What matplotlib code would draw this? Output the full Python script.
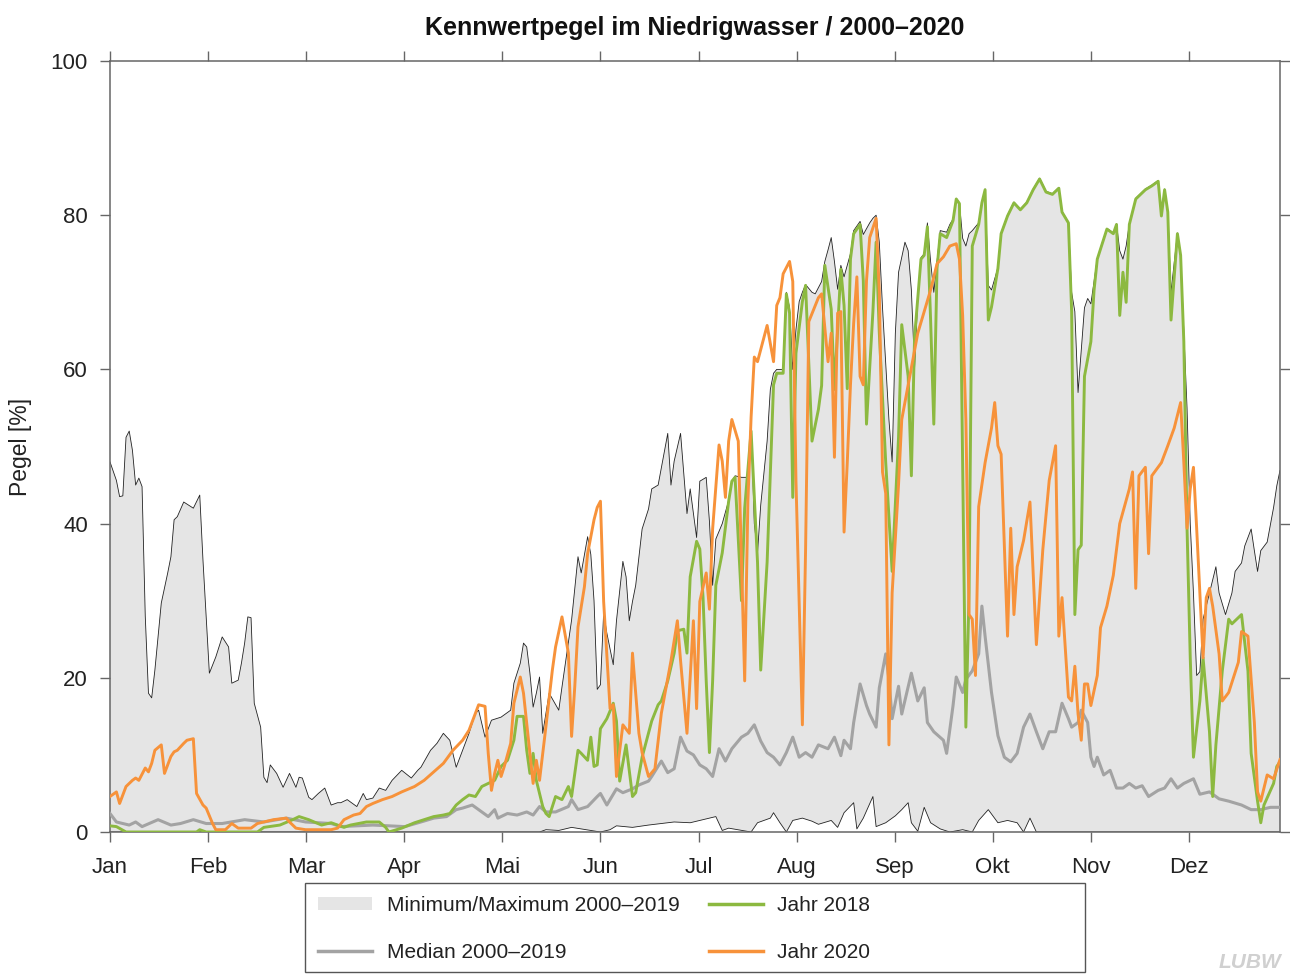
import matplotlib
matplotlib.use("Agg")
import matplotlib.pyplot as plt
import numpy as np
from matplotlib.patches import Patch, Rectangle
from matplotlib.lines import Line2D

plt.rcParams["font.family"] = ["Liberation Sans", "DejaVu Sans"]

months = ["Jan", "Feb", "Mar", "Apr", "Mai", "Jun", "Jul", "Aug", "Sep", "Okt", "Nov", "Dez"]
month_start = np.arange(12) * 30.6

# (day of year, Pegel %)
max_2000_2019 = [
    (0, 48.0), (2, 45.6), (3, 43.5), (4, 43.6), (5, 51.2), (6, 52.0), (7, 49.5), (8, 45.0), (9, 45.9),
    (10, 44.8), (11, 28.0), (12, 18.0), (13, 17.4), (14, 21.0), (16, 29.7), (18, 33.6), (19, 35.7),
    (20, 40.5), (21, 40.9), (23, 42.8), (26, 42.0), (28, 43.7), (29, 35.3), (31, 20.6), (33, 22.7),
    (35, 25.3), (37, 24.0), (38, 19.3), (40, 19.7), (41, 21.9), (42, 24.5), (43, 27.9), (44, 27.8),
    (45, 16.7), (47, 13.6), (48, 7.1), (49, 6.4), (50, 8.7), (52, 7.6), (54, 5.8), (55, 6.7), (56, 7.6),
    (58, 5.8), (59, 7.1), (60, 7.0), (62, 4.5), (63, 4.2), (65, 5.0), (67, 5.7), (69, 3.5), (71, 3.8),
    (72, 3.8), (74, 4.2), (77, 3.3), (79, 5.0), (80, 4.2), (82, 4.4), (84, 5.7), (86, 5.4), (88, 6.7),
    (91, 8.0), (94, 7.0), (96, 8.0), (97, 8.4), (100, 10.6), (102, 11.5), (104, 12.8), (106, 11.9),
    (108, 8.4), (110, 10.6), (112, 12.8), (114, 15.4), (115, 15.8), (117, 12.3), (119, 14.5), (122, 14.9),
    (125, 15.8), (126, 19.3), (128, 21.9), (129, 24.5), (130, 24.0), (131, 20.6), (132, 16.2), (133, 18.0),
    (134, 20.1), (135, 12.8), (137, 18.0), (140, 15.8), (141, 18.8), (144, 27.5), (146, 35.7), (147, 33.6),
    (149, 38.3), (150, 36.0), (151, 30.0), (152, 18.5), (153, 19.1), (154, 28.4), (155, 25.8), (157, 21.7),
    (158, 27.4), (160, 35.1), (161, 33.1), (162, 27.4), (163, 29.9), (164, 32.0), (166, 39.3), (168, 41.9),
    (169, 44.5), (171, 45.0), (174, 51.7), (175, 45.0), (176, 48.1), (178, 51.7), (180, 41.3), (181, 44.5),
    (183, 38.2), (184, 45.5), (186, 46.0), (187, 40.3), (188, 32.0), (189, 38.0), (191, 40.0), (193, 43.0),
    (194, 45.5), (195, 46.2), (197, 46.0), (199, 46.0), (200, 53.0), (201, 40.0), (202, 36.2), (203, 42.4),
    (205, 50.7), (206, 57.4), (207, 59.5), (208, 60.0), (210, 60.0), (211, 70.0), (212, 68.0), (213, 60.0),
    (214, 65.2), (215, 68.8), (216, 70.0), (217, 71.0), (219, 70.0), (220, 69.8), (222, 71.4), (223, 74.0),
    (224, 75.5), (225, 77.1), (226, 74.0), (227, 70.4), (228, 73.5), (229, 72.0), (231, 75.0), (232, 78.0),
    (234, 79.2), (235, 77.5), (237, 79.0), (238, 79.6), (239, 80.0), (240, 76.5), (241, 68.0), (243, 53.5),
    (244, 48.0), (245, 64.7), (246, 72.6), (248, 76.5), (249, 75.4), (250, 70.3), (251, 60.2), (252, 69.2),
    (253, 74.5), (254, 75.0), (255, 79.0), (256, 74.0), (257, 70.0), (258, 74.0), (259, 78.0), (261, 77.8),
    (262, 78.8), (263, 79.5), (264, 82.2), (265, 81.6), (266, 77.0), (267, 76.0), (268, 77.6), (269, 78.0),
    (270, 78.5), (271, 79.0), (272, 81.7), (273, 83.4), (274, 70.9), (275, 70.3), (277, 73.2), (278, 77.7),
    (280, 80.0), (282, 81.7), (284, 80.8), (286, 81.7), (288, 83.4), (290, 84.8), (292, 83.1), (294, 82.8),
    (296, 83.6), (297, 80.5), (299, 79.1), (300, 70.0), (301, 67.5), (302, 57.0), (304, 68.0), (305, 69.2),
    (306, 68.5), (308, 74.4), (311, 78.3), (313, 77.7), (314, 78.9), (315, 75.4), (316, 74.3), (317, 76.0),
    (318, 78.9), (320, 82.2), (323, 83.4), (325, 83.9), (327, 84.5), (328, 80.0), (329, 83.4), (330, 80.5),
    (331, 70.0), (333, 77.7), (334, 74.9), (335, 65.0), (336, 55.0), (337, 40.0), (338, 31.0), (339, 20.3),
    (340, 20.8), (341, 27.6), (343, 31.0), (345, 34.4), (346, 31.0), (348, 28.2), (350, 31.0), (351, 33.8),
    (353, 34.9), (354, 37.1), (356, 39.3), (357, 36.5), (358, 33.8), (359, 36.5), (361, 37.6), (363, 42.1),
    (364, 44.9), (365, 46.9),
]

min_2000_2019 = [
    (0, 0.0), (134, 0.0), (136, 0.3), (140, 0.2), (144, 0.6), (150, 0.2), (153, 0.0), (156, 0.3), (158, 0.8),
    (163, 0.6), (168, 0.9), (176, 1.3), (181, 1.2), (184, 1.5), (189, 2.0), (191, 0.2), (193, 0.5), (200, 0.0),
    (202, 1.2), (206, 1.8), (207, 2.5), (209, 1.2), (211, 0.0), (213, 1.5), (216, 1.8), (219, 1.4), (221, 1.0),
    (225, 1.5), (227, 0.6), (229, 2.5), (232, 3.8), (233, 0.4), (235, 1.8), (238, 4.6), (239, 0.7), (242, 1.2),
    (245, 2.1), (247, 2.9), (249, 3.8), (250, 1.2), (252, 0.1), (254, 3.2), (256, 1.2), (259, 0.4), (262, 0.0),
    (266, 0.3), (269, 0.0), (271, 1.5), (274, 2.9), (277, 1.2), (280, 1.5), (283, 1.2), (285, 0.0), (287, 1.8),
    (289, 0.0), (365, 0.0),
]

median_2000_2019 = [
    (0, 2.4), (2, 1.3), (6, 0.9), (8, 1.3), (10, 0.7), (15, 1.6), (19, 0.9), (22, 1.1), (26, 1.6), (30, 1.1),
    (35, 1.1), (42, 1.6), (48, 1.3), (55, 1.8), (61, 1.3), (69, 1.1), (72, 0.7), (82, 0.9), (92, 0.7),
    (97, 1.3), (101, 1.8), (105, 2.0), (108, 2.9), (110, 3.1), (113, 3.5), (115, 2.9), (118, 2.0), (120, 2.9),
    (121, 1.8), (124, 2.4), (127, 2.2), (130, 2.6), (132, 2.2), (134, 3.3), (136, 2.6), (139, 2.6), (143, 3.3),
    (144, 4.2), (146, 2.9), (149, 3.3), (152, 4.6), (153, 5.0), (155, 3.5), (158, 5.6), (160, 5.1), (163, 5.6),
    (165, 6.1), (168, 6.6), (169, 7.2), (172, 9.2), (174, 7.7), (176, 8.2), (178, 12.3), (180, 10.5),
    (182, 10.0), (184, 8.7), (186, 8.2), (188, 7.2), (190, 10.8), (192, 9.2), (194, 10.8), (197, 12.3),
    (199, 12.8), (201, 13.9), (203, 11.8), (205, 10.3), (207, 9.7), (209, 8.7), (211, 10.3), (213, 12.3),
    (215, 9.7), (217, 10.3), (219, 9.7), (221, 11.3), (224, 10.8), (226, 12.3), (228, 9.9), (229, 11.9),
    (231, 10.8), (232, 14.2), (234, 19.2), (236, 16.4), (237, 15.3), (239, 13.6), (240, 18.7), (242, 23.1),
    (243, 19.8), (244, 14.7), (246, 18.9), (247, 15.3), (250, 20.6), (252, 17.0), (254, 18.7), (255, 14.2),
    (257, 13.0), (260, 11.9), (261, 10.2), (263, 16.4), (264, 20.1), (266, 18.1), (267, 19.8), (269, 20.9),
    (271, 23.1), (272, 29.3), (273, 25.4), (275, 18.1), (277, 12.5), (279, 9.7), (281, 9.1), (283, 10.2),
    (285, 13.6), (287, 15.3), (289, 13.0), (291, 10.8), (293, 13.0), (295, 13.0), (297, 16.7), (299, 14.7),
    (300, 13.6), (302, 14.2), (303, 15.8), (305, 14.2), (306, 9.7), (307, 8.5), (308, 9.7), (310, 7.4),
    (312, 8.0), (314, 5.7), (316, 5.7), (318, 6.3), (320, 5.7), (322, 6.0), (324, 4.6), (327, 5.4),
    (329, 5.7), (331, 6.9), (333, 5.7), (335, 6.3), (338, 6.9), (340, 4.9), (343, 5.2), (346, 4.3),
    (349, 4.0), (353, 3.5), (356, 2.9), (359, 2.9), (362, 3.2), (365, 3.2),
]

jahr_2018 = [
    (0, 0.8), (2, 0.7), (5, 0.0), (27, 0.0), (28, 0.3), (30, 0.0), (46, 0.0), (48, 0.6), (53, 0.9), (57, 1.6),
    (59, 2.0), (62, 1.6), (66, 0.9), (69, 1.2), (73, 0.6), (75, 0.9), (80, 1.3), (84, 1.3), (86, 0.6),
    (87, 0.0), (91, 0.5), (95, 1.2), (98, 1.6), (101, 2.0), (104, 2.2), (106, 2.4), (108, 3.5), (110, 4.2),
    (112, 4.8), (114, 4.6), (116, 5.9), (118, 6.3), (120, 6.7), (122, 8.5), (124, 9.3), (126, 11.9),
    (127, 15.0), (129, 15.0), (130, 10.6), (131, 7.6), (132, 10.2), (133, 6.7), (135, 3.3), (136, 2.4),
    (137, 2.0), (139, 4.6), (141, 4.2), (143, 5.9), (144, 4.6), (146, 10.6), (147, 10.2), (149, 9.3),
    (150, 12.3), (151, 8.5), (152, 8.7), (153, 13.4), (155, 14.7), (157, 16.7), (158, 14.4), (159, 6.6),
    (161, 11.3), (163, 4.6), (164, 5.1), (166, 9.7), (169, 14.4), (171, 16.5), (172, 17.0), (174, 19.6),
    (176, 23.2), (177, 26.1), (179, 26.3), (180, 23.2), (181, 33.1), (183, 37.7), (184, 36.7), (185, 30.5),
    (186, 19.6), (187, 10.3), (188, 19.6), (189, 32.0), (191, 36.2), (193, 42.9), (194, 45.5), (195, 46.0),
    (197, 30.0), (198, 42.0), (200, 52.0), (202, 35.0), (203, 21.0), (205, 35.0), (207, 58.0), (208, 59.5),
    (210, 59.5), (211, 69.8), (212, 67.3), (213, 43.4), (214, 62.1), (216, 68.8), (217, 70.9), (219, 50.7),
    (221, 54.8), (222, 57.9), (223, 73.5), (225, 67.8), (226, 57.4), (228, 73.0), (229, 68.3), (230, 57.5),
    (231, 74.3), (232, 77.6), (234, 78.8), (235, 71.5), (236, 52.9), (238, 67.5), (239, 76.5), (240, 64.7),
    (242, 47.9), (244, 33.8), (246, 51.2), (247, 65.8), (249, 59.1), (250, 46.2), (251, 64.2), (253, 74.3),
    (254, 74.8), (255, 78.5), (256, 66.4), (257, 52.9), (258, 73.1), (259, 77.6), (261, 77.1), (263, 79.3),
    (264, 82.1), (265, 81.5), (266, 47.9), (267, 13.6), (268, 31.0), (269, 76.0), (271, 78.8), (272, 81.6),
    (273, 83.3), (274, 66.4), (275, 68.1), (277, 73.1), (278, 77.6), (280, 79.9), (282, 81.6), (284, 80.7),
    (286, 81.6), (288, 83.3), (290, 84.7), (292, 83.0), (294, 82.7), (296, 83.5), (297, 80.4), (299, 79.0),
    (300, 67.5), (301, 28.2), (302, 36.6), (303, 37.2), (304, 59.1), (306, 63.6), (307, 70.3), (308, 74.3),
    (311, 78.2), (313, 77.6), (314, 78.8), (315, 67.0), (316, 72.6), (317, 68.7), (318, 78.8), (320, 82.1),
    (323, 83.3), (325, 83.8), (327, 84.4), (328, 79.9), (329, 83.3), (330, 80.4), (331, 66.4), (333, 77.6),
    (334, 74.8), (335, 63.6), (336, 39.4), (337, 22.6), (338, 9.7), (340, 17.0), (341, 22.6), (343, 13.0),
    (344, 4.6), (345, 11.3), (347, 20.9), (349, 27.6), (350, 27.0), (353, 28.2), (355, 20.9), (356, 10.2),
    (358, 4.0), (359, 1.2), (360, 3.5), (363, 6.3), (364, 8.5), (365, 9.1),
]

jahr_2020 = [
    (0, 4.6), (2, 5.2), (3, 3.7), (5, 5.9), (7, 6.7), (8, 7.0), (9, 6.7), (11, 8.3), (12, 7.8), (13, 8.9),
    (14, 10.6), (16, 11.3), (17, 7.6), (19, 9.8), (20, 10.4), (21, 10.6), (23, 11.5), (24, 11.9), (26, 12.1),
    (27, 5.0), (29, 3.5), (30, 3.1), (32, 1.1), (33, 0.3), (36, 0.3), (38, 1.1), (40, 0.5), (44, 0.5),
    (46, 1.1), (48, 1.3), (51, 1.6), (55, 1.8), (56, 1.3), (58, 0.5), (61, 0.3), (69, 0.3), (71, 0.5),
    (73, 1.6), (76, 2.2), (78, 2.4), (80, 3.3), (82, 3.7), (85, 4.2), (88, 4.6), (91, 5.2), (95, 5.9),
    (98, 6.7), (101, 7.8), (104, 8.9), (107, 10.6), (110, 11.9), (112, 13.2), (114, 15.4), (115, 16.5),
    (117, 16.3), (118, 10.2), (119, 5.4), (120, 7.6), (121, 9.3), (122, 7.2), (123, 8.5), (125, 11.5),
    (126, 16.7), (128, 20.1), (129, 18.0), (131, 10.2), (132, 6.3), (133, 9.3), (134, 6.7), (136, 13.7),
    (138, 21.0), (139, 24.0), (141, 27.9), (143, 23.2), (144, 12.4), (145, 18.9), (146, 26.6), (148, 31.8),
    (149, 36.1), (151, 40.5), (152, 42.1), (153, 42.9), (154, 29.9), (156, 16.0), (157, 16.5), (158, 7.2),
    (160, 13.9), (162, 12.8), (163, 23.2), (165, 12.8), (166, 10.3), (168, 7.2), (170, 8.2), (172, 15.4),
    (175, 22.2), (177, 27.4), (178, 22.2), (180, 12.8), (182, 27.4), (183, 16.0), (184, 29.9), (186, 33.6),
    (187, 28.9), (188, 39.3), (190, 50.2), (191, 48.1), (192, 43.4), (193, 50.7), (194, 53.5), (196, 50.7),
    (197, 35.1), (198, 19.6), (199, 42.9), (200, 53.8), (201, 61.6), (202, 61.0), (204, 64.1), (205, 65.7),
    (207, 61.0), (208, 68.3), (209, 69.3), (210, 72.4), (212, 74.0), (213, 71.4), (214, 45.5), (216, 13.9),
    (217, 36.7), (218, 66.2), (221, 69.3), (222, 69.8), (224, 61.0), (225, 64.7), (226, 48.6), (227, 67.3),
    (228, 67.5), (229, 38.9), (230, 47.9), (231, 58.0), (232, 66.0), (233, 72.0), (234, 59.1), (235, 58.0),
    (236, 71.5), (237, 77.1), (239, 79.6), (240, 70.0), (241, 46.7), (242, 43.9), (243, 11.3), (244, 31.0),
    (246, 45.1), (247, 53.5), (249, 58.0), (250, 60.2), (252, 64.7), (254, 67.5), (256, 70.3), (258, 73.7),
    (260, 74.6), (262, 76.0), (264, 76.3), (265, 74.3), (266, 67.0), (267, 53.5), (268, 28.2), (269, 27.6),
    (270, 20.3), (271, 42.2), (273, 47.9), (275, 52.4), (276, 55.7), (277, 50.1), (278, 49.0), (280, 25.4),
    (281, 39.4), (282, 28.2), (283, 34.4), (285, 37.8), (287, 42.8), (289, 24.3), (291, 36.6), (293, 45.6),
    (295, 50.1), (296, 25.4), (297, 30.4), (299, 17.5), (300, 17.0), (301, 21.5), (302, 15.3), (303, 11.9),
    (304, 19.2), (305, 19.2), (306, 16.4), (308, 20.3), (309, 26.5), (311, 29.3), (313, 33.3), (315, 40.0),
    (318, 44.5), (319, 46.7), (320, 31.6), (321, 46.2), (323, 47.3), (324, 36.1), (325, 46.2), (328, 47.9),
    (330, 50.1), (332, 52.4), (334, 55.7), (335, 47.9), (336, 39.4), (337, 44.5), (338, 47.3), (339, 39.4),
    (341, 22.6), (342, 30.4), (343, 31.6), (344, 29.3), (346, 23.1), (347, 17.0), (349, 18.1), (352, 22.0),
    (353, 26.0), (355, 25.4), (357, 14.2), (358, 5.2), (359, 4.0), (361, 7.4), (363, 6.9), (365, 9.4),
]

col_fill = "#e5e5e5"
col_median = "#a3a3a3"
col_2018 = "#8cb940"
col_2020 = "#f7923a"
col_axis = "#666666"
col_text = "#222222"

mx = np.array(max_2000_2019)
mn = np.array(min_2000_2019)
md = np.array(median_2000_2019)
y18 = np.array(jahr_2018)
y20 = np.array(jahr_2020)

fig = plt.figure(figsize=(12.9, 9.74), dpi=100)
ax = fig.add_axes([110 / 1290, 1 - 832 / 974, 1170 / 1290, 771 / 974])

# band between minimum and maximum
ax.fill(np.concatenate([mx[:, 0], mn[::-1, 0]]), np.concatenate([mx[:, 1], mn[::-1, 1]]),
        color=col_fill, lw=0, zorder=1)
ax.plot(mx[:, 0], mx[:, 1], color="#222222", lw=0.6, zorder=2)
ax.plot(mn[:, 0], mn[:, 1], color="#222222", lw=0.6, zorder=2)
ax.plot(md[:, 0], md[:, 1], color=col_median, lw=2.2, zorder=3)
ax.plot(y18[:, 0], y18[:, 1], color=col_2018, lw=2.1, zorder=4)
ax.plot(y20[:, 0], y20[:, 1], color=col_2020, lw=2.1, zorder=5)

ax.set_xlim(0, 365)
ax.set_ylim(0, 100)
ax.set_xticks(month_start)
ax.set_xticklabels(months)
ax.set_yticks([0, 20, 40, 60, 80, 100])
ax.tick_params(direction="out", top=True, right=True, length=7, width=1, color=col_axis,
               labelsize=16, labelcolor=col_text, pad=9)
ax.tick_params(axis="x", pad=11)
for s in ax.spines.values():
    s.set_color(col_axis)
    s.set_linewidth(1.1)
ax.set_ylabel("Pegel [%]", fontsize=16.5, color=col_text)
ax.yaxis.set_label_coords(-0.0665, 0.5)
ax.set_title("Kennwertpegel im Niedrigwasser / 2000\u20132020", fontsize=18, fontweight="bold",
             color="#111111", pad=19)

handles = [
    Patch(facecolor=col_fill, edgecolor="none"),
    Line2D([], [], color=col_median, lw=2.5),
    Line2D([], [], color=col_2018, lw=2.5),
    Line2D([], [], color=col_2020, lw=2.5),
]
labels = ["Minimum/Maximum 2000\u20132019", "Median 2000\u20132019", "Jahr 2018", "Jahr 2020"]
leg = fig.legend(handles, labels, loc="upper left", ncol=2, bbox_to_anchor=(318 / 1290, 1 - 896 / 974),
                 borderaxespad=0, borderpad=0, frameon=False, fontsize=15,
                 handlelength=2.6, handleheight=0.6, handletextpad=0.7, labelspacing=1.34,
                 columnspacing=1.4)
for t in leg.get_texts():
    t.set_color(col_text)
fig.patches.append(Rectangle((305 / 1290, 2 / 974), 780 / 1290, 89 / 974, transform=fig.transFigure,
                             fill=False, edgecolor="#555555", lw=1.0))

fig.text(1250 / 1290, 1 - 963 / 974, "LUBW", ha="center", va="center", fontsize=15,
         fontstyle="italic", fontweight="bold", color="#d0d0d0")

fig.savefig("out.png", dpi=100)
